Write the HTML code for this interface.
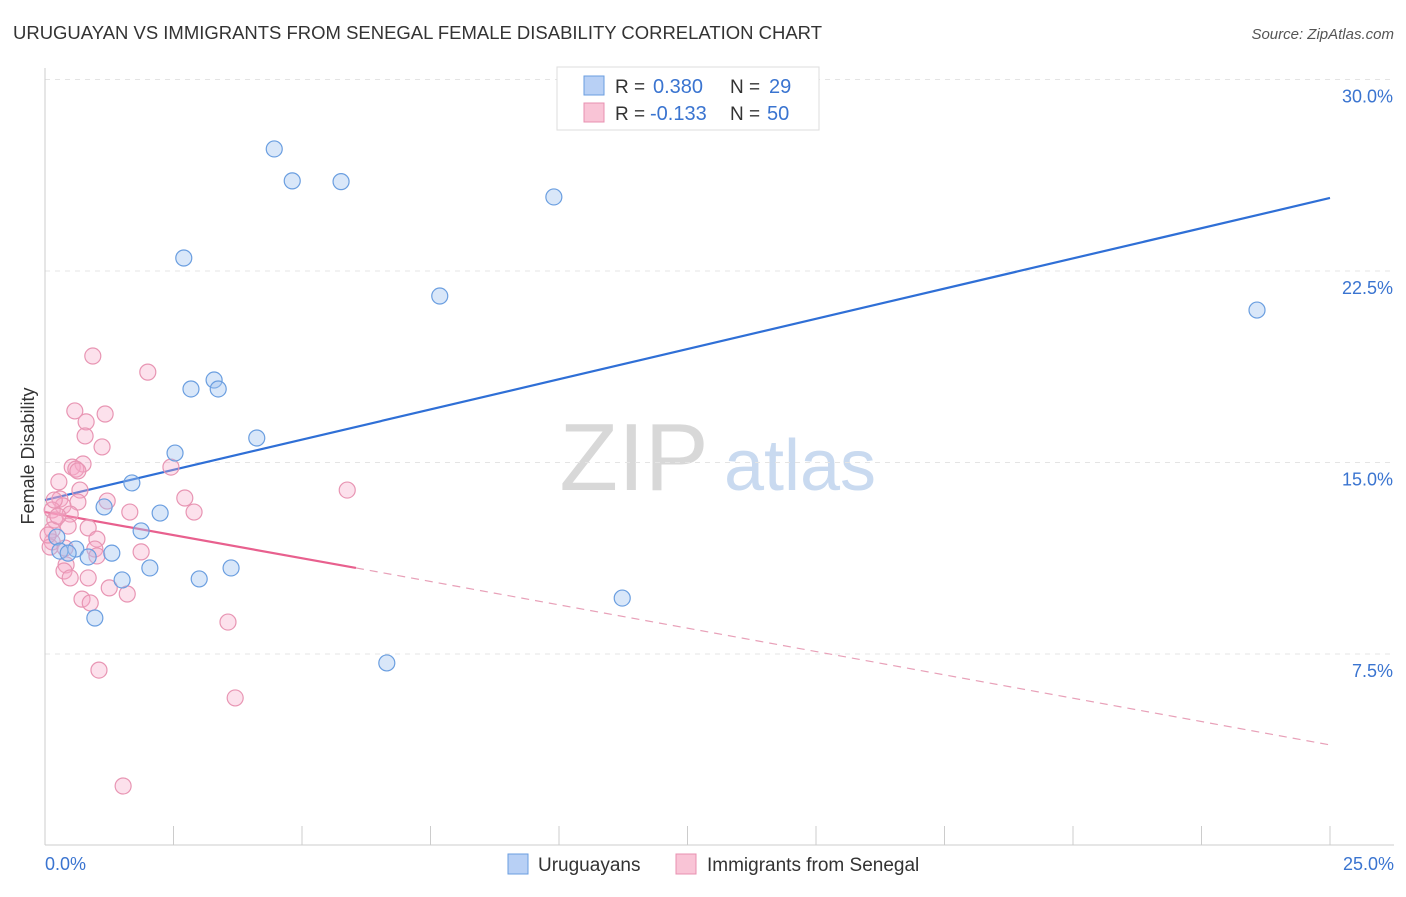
<!DOCTYPE html>
<html><head><meta charset="utf-8"><style>
body{margin:0;background:#fff;font-family:"Liberation Sans",sans-serif}
svg text{font-family:"Liberation Sans",sans-serif}
</style></head><body>
<svg id="chart" width="1406" height="892" xmlns="http://www.w3.org/2000/svg">
<text x="13" y="39" font-size="18" fill="#333" textLength="809" lengthAdjust="spacingAndGlyphs">URUGUAYAN VS IMMIGRANTS FROM SENEGAL FEMALE DISABILITY CORRELATION CHART</text>
<text x="1394" y="39" font-size="15" fill="#555" text-anchor="end" font-style="italic">Source: ZipAtlas.com</text>
<g>
<text x="634" y="490" font-size="96" fill="#d8d8d8" text-anchor="middle" font-family="Liberation Serif">ZIP</text>
<text x="800" y="490" font-size="72" fill="#c9daf0" text-anchor="middle">atlas</text>
</g>
<g id="grid"></g><g id="axes"></g><g id="lines"></g><g id="points"></g>
<text transform="translate(34,456) rotate(-90)" font-size="18" fill="#333" text-anchor="middle">Female Disability</text>
<g>
<rect x="557" y="67" width="262" height="63" fill="#fff" stroke="#ddd"/>
<rect x="584" y="76" width="20" height="19" fill="#b8d0f5" stroke="#6a9ee0"/>
<rect x="584" y="103" width="20" height="19" fill="#f9c4d6" stroke="#e890b0"/>
<text x="615" y="93" font-size="19" fill="#333">R =</text>
<text x="653" y="93" font-size="20" fill="#3a74d0">0.380</text>
<text x="730" y="93" font-size="19" fill="#333">N =</text>
<text x="769" y="93" font-size="20" fill="#3a74d0">29</text>
<text x="615" y="120" font-size="19" fill="#333">R =</text>
<text x="650" y="120" font-size="20" fill="#3a74d0">-0.133</text>
<text x="730" y="120" font-size="19" fill="#333">N =</text>
<text x="767" y="120" font-size="20" fill="#3a74d0">50</text>
</g>
<g>
<rect x="508" y="854" width="20" height="20" fill="#b8d0f5" stroke="#6a9ee0"/>
<text x="538" y="871" font-size="19" fill="#333">Uruguayans</text>
<rect x="676" y="854" width="20" height="20" fill="#f9c4d6" stroke="#e890b0"/>
<text x="707" y="871" font-size="19" fill="#333">Immigrants from Senegal</text>
</g>
</svg>
<script>
const yTicks=[7.5,15,22.5,30];
const yTickLabels=["7.5%","15.0%","22.5%","30.0%"];
const xTicks=[0,2.5,5,7.5,10,12.5,15,17.5,20,22.5,25];
const blueX=[4.46,4.81,5.76,9.90,2.70,7.68,23.58,3.29,2.84,3.37,4.12,2.53,1.69,1.15,2.24,1.87,0.23,0.60,0.29,0.45,0.84,1.30,2.04,3.62,1.50,3.00,11.23,0.97,6.65];
const blueY=[27.28,26.03,26.00,25.40,23.01,21.52,20.97,18.23,17.88,17.88,15.96,15.37,14.20,13.26,13.02,12.32,12.08,11.61,11.53,11.45,11.30,11.45,10.87,10.87,10.40,10.44,9.69,8.91,7.15];
const pinkX=[0.93,2.00,0.58,1.17,0.80,0.78,1.11,0.74,0.53,0.60,0.64,2.45,5.88,0.27,0.68,2.72,1.21,0.29,0.64,0.35,0.14,0.49,1.65,2.90,0.19,0.45,0.84,0.14,1.01,0.14,0.10,1.87,0.97,1.01,0.41,0.37,0.49,0.84,1.25,1.60,0.72,0.88,3.56,1.05,3.70,1.52,0.25,0.06,0.39,0.18];
const pinkY=[19.17,18.54,17.02,16.90,16.59,16.04,15.61,14.94,14.82,14.74,14.67,14.82,13.92,14.24,13.92,13.61,13.49,13.57,13.45,13.30,13.14,12.98,13.06,13.06,12.75,12.51,12.44,12.36,12.00,11.89,11.69,11.50,11.61,11.34,10.99,10.75,10.48,10.48,10.09,9.85,9.65,9.50,8.75,6.87,5.78,2.33,12.90,12.16,11.65,13.53];
const blueTrend=[[0,13.53],[25,25.36]];
const pinkTrend=[[0,13.06],[6.05,10.87],[25,3.94]];
const NS="http://www.w3.org/2000/svg";
const X=v=>45+v*51.4, Y=v=>845.5-v*25.533;
function mk(p,t,a){const e=document.createElementNS(NS,t);for(const k in a)e.setAttribute(k,a[k]);p.appendChild(e);return e;}
const grid=document.getElementById('grid'),axes=document.getElementById('axes'),lines=document.getElementById('lines'),pts=document.getElementById('points');
yTicks.forEach((t,i)=>{
 const l=mk(grid,'line',{x1:45,x2:1394,y1:Y(t),y2:Y(t),stroke:'#e4e4e4','stroke-dasharray':'5,5'});
 
 
 const tx=mk(axes,'text',{x:1393,y:Y(t)+23,'font-size':18,fill:'#3a74d0','text-anchor':'end'});
 tx.textContent=yTickLabels[i];
 
 
});
const ax=mk(axes,'line',{x1:45,x2:1394,y1:845,y2:845,stroke:'#ccc'});


const ay=mk(axes,'line',{x1:45,x2:45,y1:68,y2:845,stroke:'#ccc'});


xTicks.forEach(t=>{const l=mk(axes,'line',{x1:X(t),x2:X(t),y1:826,y2:845,stroke:'#ccc'});
 
 });
const x0=mk(axes,'text',{x:45,y:870,'font-size':18,fill:'#3a74d0'});x0.textContent='0.0%';


const x1=mk(axes,'text',{x:1394,y:870,'font-size':18,fill:'#3a74d0','text-anchor':'end'});x1.textContent='25.0%';


const bl=mk(lines,'line',{x1:X(blueTrend[0][0]),y1:Y(blueTrend[0][1]),x2:X(blueTrend[1][0]),y2:Y(blueTrend[1][1]),stroke:'#2f6fd6','stroke-width':2.2});


const pl=mk(lines,'line',{x1:X(pinkTrend[0][0]),y1:Y(pinkTrend[0][1]),x2:X(pinkTrend[1][0]),y2:Y(pinkTrend[1][1]),stroke:'#e8608e','stroke-width':2.2});


const pd=mk(lines,'line',{x1:X(pinkTrend[1][0]),y1:Y(pinkTrend[1][1]),x2:X(pinkTrend[2][0]),y2:Y(pinkTrend[2][1]),stroke:'#e8a0b8','stroke-width':1.2,'stroke-dasharray':'8,6'});


pinkX.forEach((v,i)=>{const c=mk(pts,'circle',{cx:X(v),cy:Y(pinkY[i]),r:8,fill:'rgba(245,170,200,0.35)',stroke:'#e895b3','stroke-width':1.2});
 
 });
blueX.forEach((v,i)=>{const c=mk(pts,'circle',{cx:X(v),cy:Y(blueY[i]),r:8,fill:'rgba(160,195,240,0.4)',stroke:'#6a9ee0','stroke-width':1.2});
 
 });
</script>
</body></html>
